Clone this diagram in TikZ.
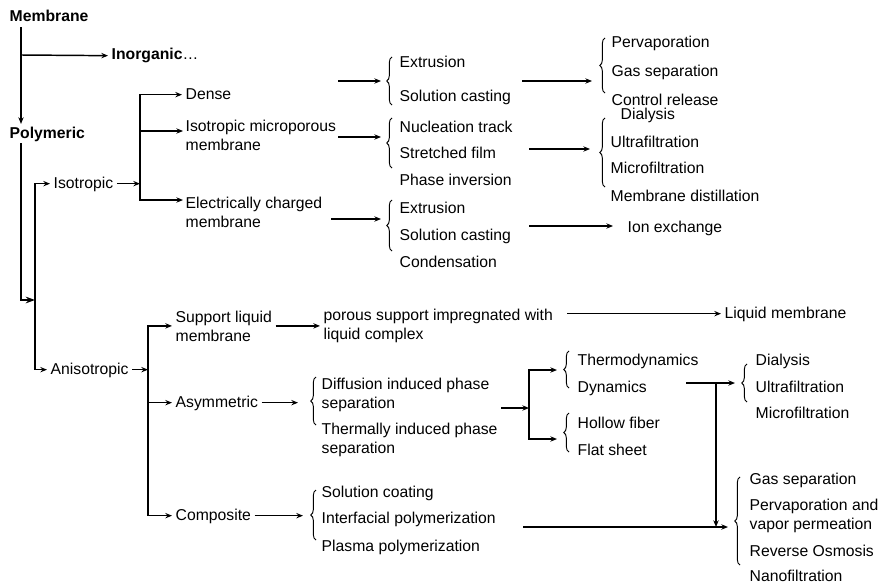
\documentclass[tikz,border=0pt]{standalone}
\usepackage{fontspec}
\setmainfont{Liberation Sans}
\usetikzlibrary{arrows.meta,decorations.pathreplacing}
\tikzset {>={Stealth[length=5pt,width=4pt]}}

\begin{document}
\begin{tikzpicture}[x=.75pt,y=-.75pt,line width=1.1pt,
  every node/.style={font=\fontsize{11.8}{14.2}\selectfont,inner xsep=2.25pt,inner ysep=1.5pt},
  lbl/.style={anchor=base west,xshift=-2.25pt,text height=8.5pt,text depth=2pt},
  lbltwo/.style={anchor=base west,xshift=-2.25pt,align=left},
  hd/.style={lbl,font=\fontsize{11.8}{14.2}\selectfont\bfseries},
  brc/.style={decorate,decoration={brace,amplitude=4pt},line width=.7pt}]
\useasboundingbox (0,0) rectangle (881,585);

% headings
\node[hd] (memb) at (9,22) {Membrane};
\node[hd] (poly) at (9,138) {Polymeric};
\node[lbl] (inorg) at (111,60) {\textbf{Inorganic}\dots};

% one-line labels
\foreach \name/\x/\y/\txt in {iso/53/188/Isotropic, aniso/50/374/Anisotropic,
  dense/185/99/Dense,
  extrA/399/68/Extrusion, castA/399/101/Solution casting,
  perv/611/48/Pervaporation, gasA/611/76/Gas separation, ctrl/611/105/Control release,
  nucl/399/132/Nucleation track, stre/399/158/Stretched film, phas/399/185/Phase inversion,
  dialA/620/119/Dialysis, ultrA/610/147/Ultrafiltration, microA/610/173/Microfiltration,
  dist/610/201/Membrane distillation,
  extrB/399/213/Extrusion, castB/399/240/Solution casting, cond/399/267/Condensation,
  ion/627/232/Ion exchange, liqm/724/318/Liquid membrane,
  asym/175/407/Asymmetric, comp/175/520/Composite,
  thdy/577/365/Thermodynamics, dyna/577/392/Dynamics,
  holl/577/428/Hollow fiber, flat/577/455/Flat sheet,
  dialB/755/365/Dialysis, ultrB/755/392/Ultrafiltration, microB/755/418/Microfiltration,
  coat/321/497/Solution coating, intf/321/523/Interfacial polymerization,
  plas/321/551/Plasma polymerization,
  gasB/749/484/Gas separation, rev/749/556/Reverse Osmosis, nano/749/581/Nanofiltration}
  \node[lbl] (\name) at (\x,\y) {\txt};

% two-line labels (base = last line)
\node[lbltwo] (micro) at (185,150) {Isotropic microporous\\membrane};
\node[lbltwo] (elec) at (185,227) {Electrically charged\\membrane};
\node[lbltwo] (supp) at (175,341) {Support liquid\\membrane};
\node[lbltwo] (poro) at (323,339) {porous support impregnated with\\liquid complex};
\node[lbltwo] (diff) at (321,408) {Diffusion induced phase\\separation};
\node[lbltwo] (therm) at (321,453) {Thermally induced phase\\separation};
\node[lbltwo] (pervB) at (749,529) {Pervaporation and\\vapor permeation};

% braces
\foreach \x/\top/\bot in {392/57/105, 605/38/93, 392/118/168, 605/118/187,
  392/200/251, 316/377/425, 569/351/388, 569/413/452, 747/364/402,
  316/490/540, 740/477/565}
  \draw[brc] (\x,\bot) -- (\x,\top);

% junctions and arrow ends
\foreach \name/\x/\y in {mx/21/55, px/35/300, ix/140/183, mA/183/131, eA/183/200,
  dA/338/81, bA/381/81, cA/522/81, bB/592/81,
  dC/338/137, bC/381/137, cC/529/149, bD/590/149,
  dE/331/219, bE/381/219, cE/529/226, iE/613/226,
  ax/148/369, lA/567/313, bF/298/402,
  dF/501/408, jF/529/408, bG/557/370, bH/557/439,
  dG/686/383, bI/735/383, kx/716/383,
  bJ/303/515, dJ/523/527, bK/728/527}
  \coordinate (\name) at (\x,\y);

% membrane -> polymeric
\draw[->] (mx |- memb.south) -- (mx |- poly.north);
\draw[->] (mx) -- (inorg.west);
\draw[-{Stealth[length=7pt,width=5pt]}] (mx |- poly.south) |- (px);
\draw[<->] (iso.west) -| (px) |- (aniso.west);

% isotropic
\draw[->] (iso.east) -- (iso.east -| ix);
\draw[<->] (dense.west) -| (ix) |- (eA);
\draw[->] (ix |- mA) -- (mA);
\draw[->] (dA) -- (bA);
\draw[->] (cA) -- (bB);
\draw[->] (dC) -- (bC);
\draw[->] (cC) -- (bD);
\draw[->] (dE) -- (bE);
\draw[->] (cE) -- (iE);

% anisotropic
\draw[->] (aniso.east) -- (aniso.east -| ax);
\draw[<->] (supp.west) -| (ax) |- (comp.west);
\draw[->] (ax |- asym.west) -- (asym.west);
\draw[->] (supp.east) -- (supp.east -| poro.west);
\draw[->] (liqm.west -| lA) -- (liqm.west);
\draw[->] (asym.east) -- (asym.east -| bF);
\draw[->] (dF) -- (jF);
\draw[<->] (bG) -| (jF) |- (bH);
\draw[->] (dG) -- (bI);
\draw[->] (kx) -- (kx |- bK);
\draw[->] (comp.east) -- (comp.east -| bJ);
\draw[->] (dJ) -- (bK);

\end{tikzpicture}
\end{document}
